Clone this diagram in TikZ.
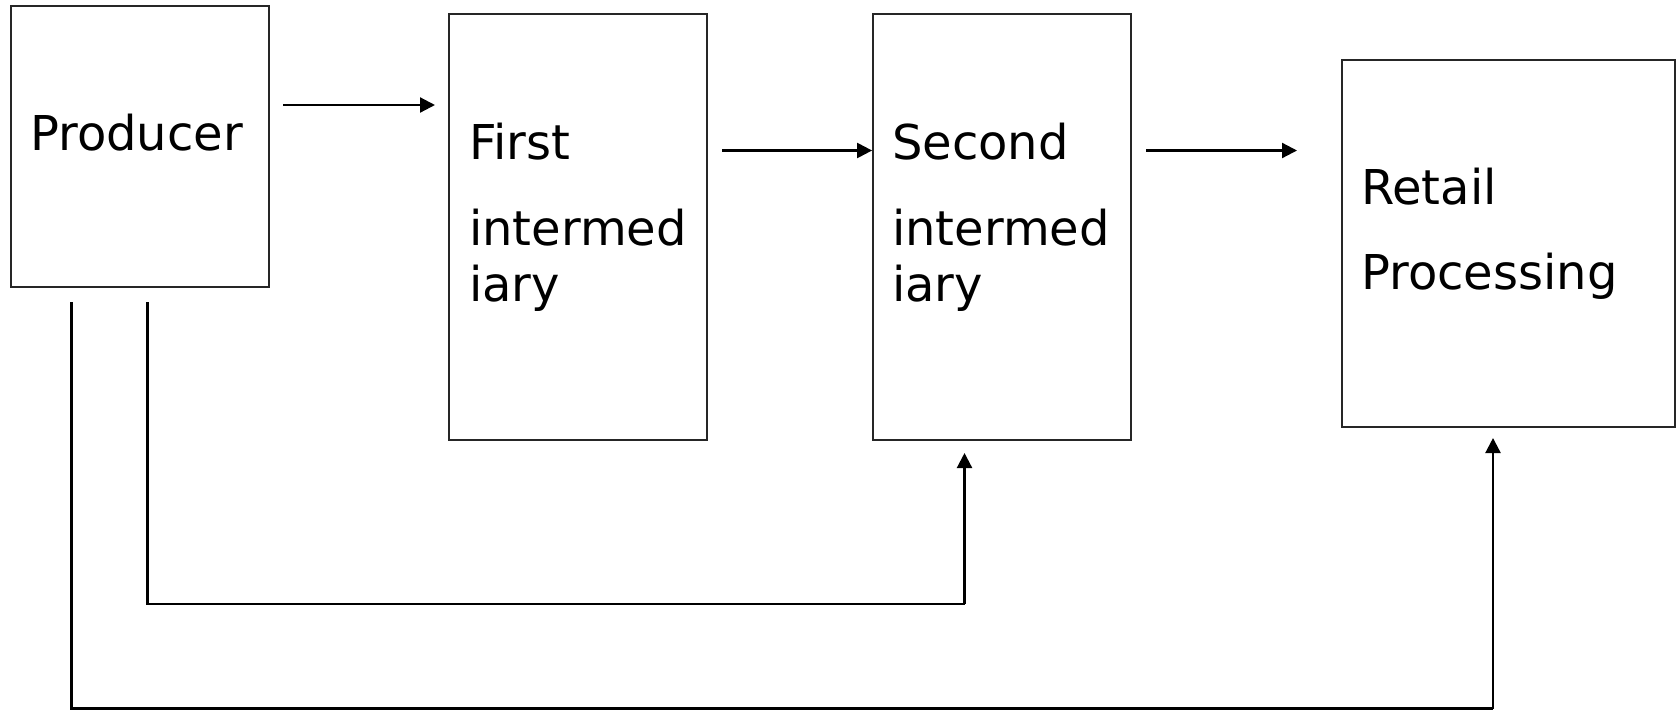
\documentclass[tikz,border=0pt]{standalone}
\usepackage{fontspec}
\setmainfont{DejaVu Sans}
\usetikzlibrary{arrows.meta}
\begin{document}
\begin{tikzpicture}[x=1pt,y=-1pt,
  box/.style={draw=black!85,line width=1.8pt,rectangle,inner sep=0pt},
  lbl/.style={inner sep=0pt,anchor=base west,font=\fontsize{48}{56}\selectfont},
  arr/.style={line width=2.2pt,-{Triangle[length=15pt,width=15pt]}},
  ln/.style={line width=2.2pt}]
\useasboundingbox (0,0) rectangle (1677,710);
% boxes
\node[box,minimum width=258pt,minimum height=281pt] (prod) at (140,146.5) {};
\node[box,minimum width=258pt,minimum height=426pt] (first) at (578,227) {};
\node[box,minimum width=258pt,minimum height=426pt] (second) at (1002,227) {};
\node[box,minimum width=333pt,minimum height=367pt] (retail) at (1508.5,243.5) {};
% labels
\node[lbl] (tprod) at (30,150) {Producer};
\node[lbl] (tfirst1) at (469,159) {First};
\node[lbl] (tfirst2) at (469,245) {intermed};
\node[lbl] (tfirst3) at (469,301.5) {iary};
\node[lbl] (tsec1) at (892,159) {Second};
\node[lbl] (tsec2) at (892,245) {intermed};
\node[lbl] (tsec3) at (892,301.5) {iary};
\node[lbl] (tret1) at (1361,204) {Retail};
\node[lbl] (tret2) at (1361,289) {Processing};
% horizontal arrows
\coordinate (a1s) at (283,105);
\coordinate (a1e) at (435,105);
\coordinate (a2s) at (722,150.5);
\coordinate (a3s) at (1146,150.5);
\coordinate (a3e) at (1297,150.5);
\draw[arr] (a1s) -- (a1e);
\draw[arr] (a2s) -- (second.west |- a2s);
\draw[arr] (a3s) -- (a3e);
% lower routes
\coordinate (inS) at (147.5,302);
\coordinate (inC) at (147.5,604);
\coordinate (inD) at (964.5,604);
\coordinate (inE) at (964.5,453);
\coordinate (outS) at (71.5,302);
\coordinate (outC) at (71.5,708.5);
\coordinate (outD) at (1493,708.5);
\coordinate (outE) at (1493,438);
\draw[ln] (inS) -- (inC) -- (inD);
\draw[arr] (inD) -- (inE);
\draw[ln] (outS) -- (outC) -- (outD);
\draw[arr] (outD) -- (outE);
\end{tikzpicture}
\end{document}
